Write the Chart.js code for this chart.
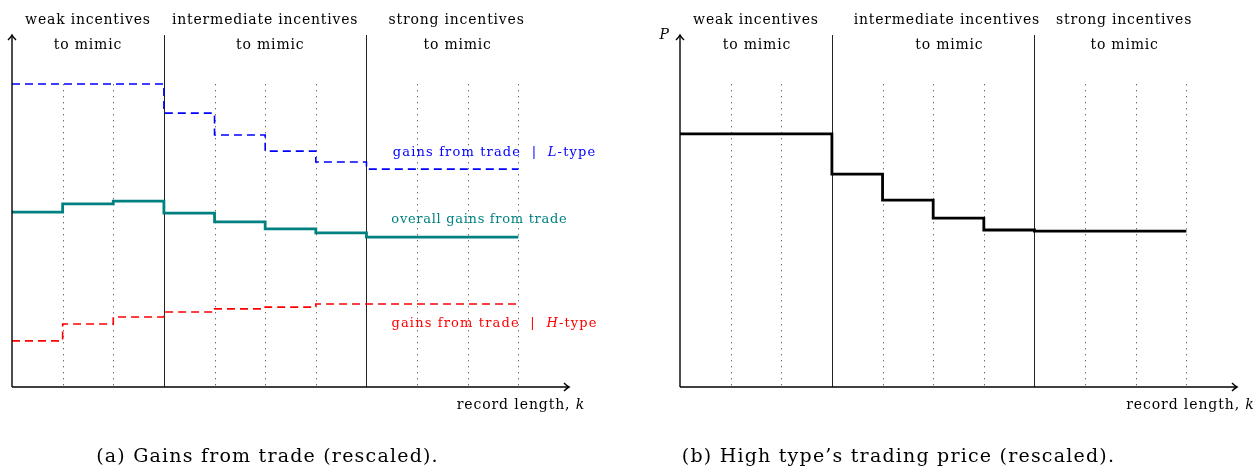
<!DOCTYPE html>
<html><head><meta charset="utf-8">
<script src="https://cdn.jsdelivr.net/npm/chart.js@4.4.1/dist/chart.umd.min.js"></script>
<style>
html,body{margin:0;padding:0;background:#fff;}
#wrap{position:relative;width:1256px;height:470px;overflow:hidden;}
canvas{position:absolute;top:0;}
</style></head><body>
<div id="wrap">
<canvas id="ca" width="628" height="470" style="left:0px"></canvas>
<canvas id="cb" width="628" height="470" style="left:628px"></canvas>
</div>
<script>
// ---- data ----
const kValues      = [0, 1, 2, 3, 4, 5, 6, 7, 8, 9, 10];
const gainsL       = [8.61, 8.61, 8.61, 7.78, 7.16, 6.70, 6.39, 6.19, 6.19, 6.19, 6.19];
const gainsOverall = [4.97, 5.20, 5.28, 4.94, 4.69, 4.49, 4.38, 4.26, 4.26, 4.26, 4.26];
const gainsH       = [1.31, 1.79, 1.99, 2.13, 2.22, 2.27, 2.36, 2.36, 2.36, 2.36, 2.36];
const priceH       = [7.19, 7.19, 7.19, 6.05, 5.31, 4.80, 4.46, 4.43, 4.43, 4.43, 4.43];
const regionBoundaries = [3, 7];
const dottedK = [1, 2, 4, 5, 6, 8, 9, 10];
const regionTitles = ['weak incentives', 'intermediate incentives', 'strong incentives'];
const regionSubtitle = 'to mimic';
const labelL = [['gains from trade  |  ', false], ['L', true], ['-type', false]];
const labelOverall = [['overall gains from trade', false]];
const labelH = [['gains from trade  |  ', false], ['H', true], ['-type', false]];
const xTitle = [['record length, ', false], ['k', true]];
const yTitleB = [['P', true]];
const captionA = '(a) Gains from trade (rescaled).';
const captionB = '(b) High type\u2019s trading price (rescaled).';

const FONT = '"DejaVu Serif", "Liberation Serif", serif';

function setFont(ctx, size, italic) {
  ctx.font = (italic ? 'italic ' : '') + size + 'px ' + FONT;
}
function richWidth(ctx, runs, size, ls) {
  let w = 0;
  for (const [t, it] of runs) { setFont(ctx, size, it); ctx.letterSpacing = ls + 'px'; w += ctx.measureText(t).width; }
  return w;
}
function drawRich(ctx, runs, x, y, size, color, align, ls) {
  const w = richWidth(ctx, runs, size, ls);
  let cx = align === 'center' ? x - w / 2 : (align === 'right' ? x - w : x);
  ctx.fillStyle = color; ctx.textBaseline = 'alphabetic'; ctx.textAlign = 'left';
  for (const [t, it] of runs) {
    setFont(ctx, size, it); ctx.letterSpacing = ls + 'px';
    ctx.fillText(t, cx, y);
    cx += ctx.measureText(t).width;
  }
  ctx.letterSpacing = '0px';
}

const decoPlugin = {
  id: 'deco',
  beforeDatasetsDraw(chart, args, o) {
    const ctx = chart.ctx, xs = chart.scales.x, ys = chart.scales.y, a = chart.chartArea;
    ctx.save();
    ctx.strokeStyle = '#333'; ctx.lineWidth = 1; ctx.setLineDash([1, 5]);
    for (const k of dottedK) {
      const x = Math.round(xs.getPixelForValue(k)) + 0.5;
      ctx.beginPath(); ctx.moveTo(x, ys.getPixelForValue(o.dotTop)); ctx.lineTo(x, a.bottom); ctx.stroke();
    }
    ctx.setLineDash([]); ctx.strokeStyle = '#222'; ctx.lineWidth = 1;
    for (const k of regionBoundaries) {
      const x = Math.round(xs.getPixelForValue(k)) + 0.5;
      ctx.beginPath(); ctx.moveTo(x, a.top); ctx.lineTo(x, a.bottom); ctx.stroke();
    }
    ctx.restore();
  },
  afterDatasetsDraw(chart, args, o) {
    const ctx = chart.ctx, xs = chart.scales.x, ys = chart.scales.y, a = chart.chartArea;
    ctx.save();
    ctx.setLineDash([]);
    ctx.strokeStyle = '#000'; ctx.lineWidth = 1.4;
    const x0 = xs.getPixelForValue(0), y0 = ys.getPixelForValue(0);
    ctx.beginPath(); ctx.moveTo(x0, y0); ctx.lineTo(x0, a.top); ctx.stroke();
    ctx.beginPath(); ctx.moveTo(x0 - 4, a.top + 5); ctx.quadraticCurveTo(x0 - 1, a.top + 2, x0, a.top);
    ctx.quadraticCurveTo(x0 + 1, a.top + 2, x0 + 4, a.top + 5); ctx.stroke();
    ctx.beginPath(); ctx.moveTo(x0, y0); ctx.lineTo(a.right, y0); ctx.stroke();
    ctx.beginPath(); ctx.moveTo(a.right - 5, y0 - 4); ctx.quadraticCurveTo(a.right - 2, y0 - 1, a.right, y0);
    ctx.quadraticCurveTo(a.right - 2, y0 + 1, a.right - 5, y0 + 4); ctx.stroke();
    regionTitles.forEach((t, i) => {
      drawRich(ctx, [[t, false]], xs.getPixelForValue(o.titleX[i]), a.top - 11, 14, '#000', 'center', 0.8);
      drawRich(ctx, [[regionSubtitle, false]], xs.getPixelForValue(o.subX[i]), a.top + 14, 14, '#000', 'center', 0.8);
    });
    for (const L of o.labels) {
      drawRich(ctx, L.runs, xs.getPixelForValue(L.x), ys.getPixelForValue(L.y), 13, L.color, 'center', L.ls);
    }
    drawRich(ctx, xTitle, xs.getPixelForValue(o.xTitleX), a.bottom + 22, 14, '#000', 'right', 0.9);
    if (o.yTitle) drawRich(ctx, o.yTitle, x0 - 11, a.top + 4, 14, '#000', 'right', 0);
    drawRich(ctx, [[o.caption, false]], o.captionX, 462, 19, '#000', 'center', 1.2);
    ctx.restore();
  }
};

function series(vals, color, width, dash) {
  return {
    data: kValues.map((k, i) => ({ x: k, y: vals[i] })),
    borderColor: color, borderWidth: width, borderDash: dash || [],
    stepped: 'before', fill: false, pointRadius: 0, tension: 0,
    borderCapStyle: 'butt', borderJoinStyle: 'miter'
  };
}

function makeChart(id, datasets, pad, deco) {
  return new Chart(document.getElementById(id), {
    type: 'line',
    data: { datasets },
    options: {
      responsive: false, animation: false, devicePixelRatio: 1,
      layout: { padding: pad },
      plugins: { legend: { display: false }, tooltip: { enabled: false }, deco },
      scales: {
        x: { type: 'linear', min: 0, max: 11, display: false },
        y: { type: 'linear', min: 0, max: 10, display: false }
      }
    },
    plugins: [decoPlugin]
  });
}

makeChart('ca', [
  series(gainsL, '#0000ff', 1.6, [8, 5]),
  series(gainsOverall, '#008080', 2.8),
  series(gainsH, '#ff0000', 1.6, [8, 5])
], { left: 12, right: 59, top: 35, bottom: 83 }, {
  dotTop: 8.6,
  titleX: [1.5, 5.0, 8.78], subX: [1.5, 5.1, 8.8],
  labels: [
    { runs: labelL, x: 9.53, y: 6.56, color: '#0000ff', ls: 1.15 },
    { runs: labelOverall, x: 9.23, y: 4.66, color: '#008080', ls: 0.7 },
    { runs: labelH, x: 9.53, y: 1.70, color: '#ff0000', ls: 1.15 }
  ],
  xTitleX: 11.32, yTitle: null,
  caption: captionA, captionX: 267.5
});

makeChart('cb', [
  series(priceH, '#000000', 2.8)
], { left: 52, right: 19, top: 35, bottom: 83 }, {
  dotTop: 8.6,
  titleX: [1.5, 5.27, 8.77], subX: [1.52, 5.32, 8.78],
  labels: [],
  xTitleX: 11.35, yTitle: yTitleB,
  caption: captionB, captionX: 270.5
});
</script>
</body></html>
